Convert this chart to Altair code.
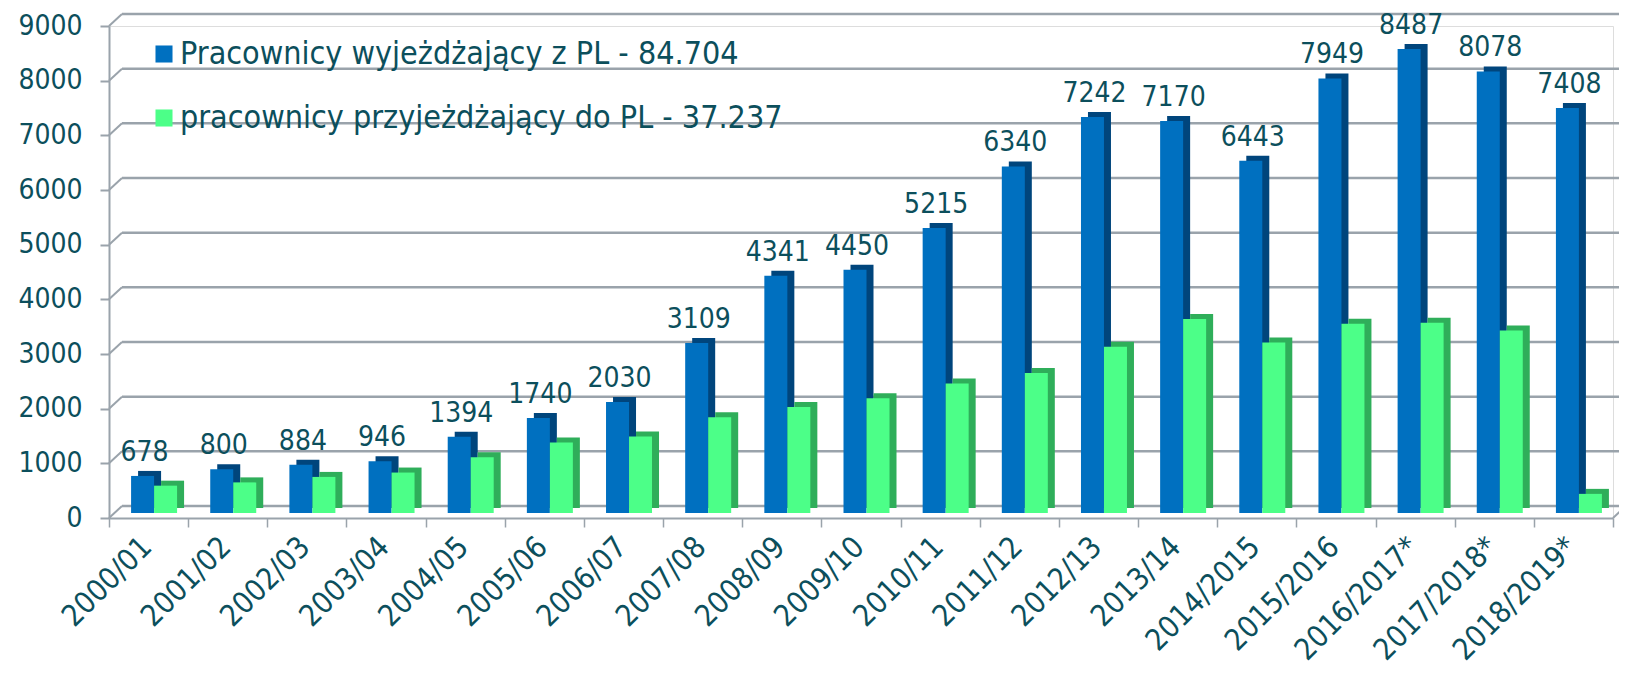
import altair as alt
import pandas as pd

categories = ["2000/01", "2001/02", "2002/03", "2003/04", "2004/05", "2005/06",
              "2006/07", "2007/08", "2008/09", "2009/10", "2010/11", "2011/12",
              "2012/13", "2013/14", "2014/2015", "2015/2016", "2016/2017*",
              "2017/2018*", "2018/2019*"]
outgoing = [678, 800, 884, 946, 1394, 1740, 2030, 3109, 4341, 4450, 5215, 6340,
            7242, 7170, 6443, 7949, 8487, 8078, 7408]
incoming = [500, 560, 660, 740, 1020, 1290, 1400, 1750, 1940, 2100, 2370, 2560,
            3040, 3550, 3120, 3460, 3480, 3340, 350]
y_ticks = [0, 1000, 2000, 3000, 4000, 5000, 6000, 7000, 8000, 9000]

S1 = "Pracownicy wyjeżdżający z PL - 84.704"
S2 = "pracownicy przyjeżdżający do PL - 37.237"

n = len(categories)
df = pd.DataFrame({
    "cat": categories * 2,
    "val": outgoing + incoming,
    "series": [S1] * n + [S2] * n,
})
grid = pd.DataFrame({"v": y_ticks})

FONT = "DejaVu Sans Condensed, DejaVu Sans, sans-serif"
TEXT = "#0c4f5c"
GRID = "#9aa3ab"
BLUE, BLUE_D = "#0070c0", "#00457c"
GREEN, GREEN_D = "#4cff88", "#2fae5a"

W, H = 1504, 492
BAR = 23
DX, DY = 7, 5        # 3D depth
BASE = -5            # bars sit slightly behind front axis
GX, GY = 13, -12     # back wall offset

x_enc = alt.X("cat:N", sort=categories, title=None,
              scale=alt.Scale(paddingInner=0, paddingOuter=0),
              axis=alt.Axis(labelAngle=315, labelAlign="right", labelBaseline="middle",
                            labelFontSize=30, labelFont=FONT, labelColor=TEXT,
                            labelPadding=15, labelOffset=-2, labelLimit=600,
                            domainColor=GRID, domainWidth=2, tickColor=GRID,
                            tickWidth=1.5, tickSize=9, tickBand="extent", grid=False))
y_enc = alt.Y("val:Q", title=None,
              scale=alt.Scale(domain=[0, 9000], nice=False, zero=True),
              axis=alt.Axis(values=y_ticks, labelFontSize=28, labelFont=FONT,
                            labelColor=TEXT, labelPadding=18, domainColor=GRID,
                            domainWidth=2, tickColor=GRID, tickWidth=2, tickSize=9,
                            grid=False, format="d"))

# back-wall gridlines
grid_rules = alt.Chart(grid).mark_rule(color=GRID, strokeWidth=2.5, yOffset=GY).encode(
    y=alt.Y("v:Q", scale=alt.Scale(domain=[0, 9000], nice=False)),
    x=alt.value(GX), x2=alt.value(W + GX),
)
grid_diag = alt.Chart(grid).mark_rule(color=GRID, strokeWidth=2, y2Offset=GY).encode(
    y=alt.Y("v:Q", scale=alt.Scale(domain=[0, 9000], nice=False)),
    y2="v:Q",
    x=alt.value(0), x2=alt.value(GX),
)
floor_front = alt.Chart(grid[grid.v == 0]).mark_rule(color=GRID, strokeWidth=2, y2Offset=GY).encode(
    y=alt.Y("v:Q", scale=alt.Scale(domain=[0, 9000], nice=False)),
    y2="v:Q",
    x=alt.value(W), x2=alt.value(W + GX),
)

base = alt.Chart(df)
blue = base.transform_filter(alt.datum.series == S1)
green = base.transform_filter(alt.datum.series == S2)

color_enc = alt.Color("series:N",
                      scale=alt.Scale(domain=[S1, S2], range=[BLUE, GREEN]),
                      legend=alt.Legend(title=None, orient="none", legendX=39, legendY=12,
                                        symbolType="square", symbolSize=290,
                                        symbolStrokeWidth=0, labelFontSize=32,
                                        labelFont=FONT, labelColor=TEXT, labelLimit=1000,
                                        labelOffset=0, rowPadding=32, padding=0))

blue_side = blue.mark_bar(size=BAR, xOffset=-6 + DX, yOffset=BASE - DY, color=BLUE_D).encode(
    x=x_enc, y=y_enc)
blue_front = blue.mark_bar(size=BAR, xOffset=-6, yOffset=BASE).encode(
    x=x_enc, y=y_enc, color=color_enc)
green_side = green.mark_bar(size=BAR, xOffset=17 + DX, yOffset=BASE - DY, color=GREEN_D).encode(
    x=x_enc, y=y_enc)
green_front = green.mark_bar(size=BAR, xOffset=17, yOffset=BASE).encode(
    x=x_enc, y=y_enc, color=color_enc)
labels = blue.mark_text(xOffset=-4, yOffset=BASE, dy=-15, baseline="alphabetic",
                        fontSize=28, font=FONT, color=TEXT).encode(
    x=x_enc, y=y_enc, text=alt.Text("val:Q", format="d"))

chart = alt.layer(
    grid_rules, grid_diag, floor_front,
    blue_side, blue_front, green_side, green_front, labels,
).properties(
    width=W, height=H,
    autosize=alt.AutoSizeParams(type="none"),
    padding={"left": 101, "top": 18, "right": 6, "bottom": 148},
).configure_view(stroke=None).configure(background="white")

chart.save("out.html", embed_options={"renderer": "svg", "actions": False})
